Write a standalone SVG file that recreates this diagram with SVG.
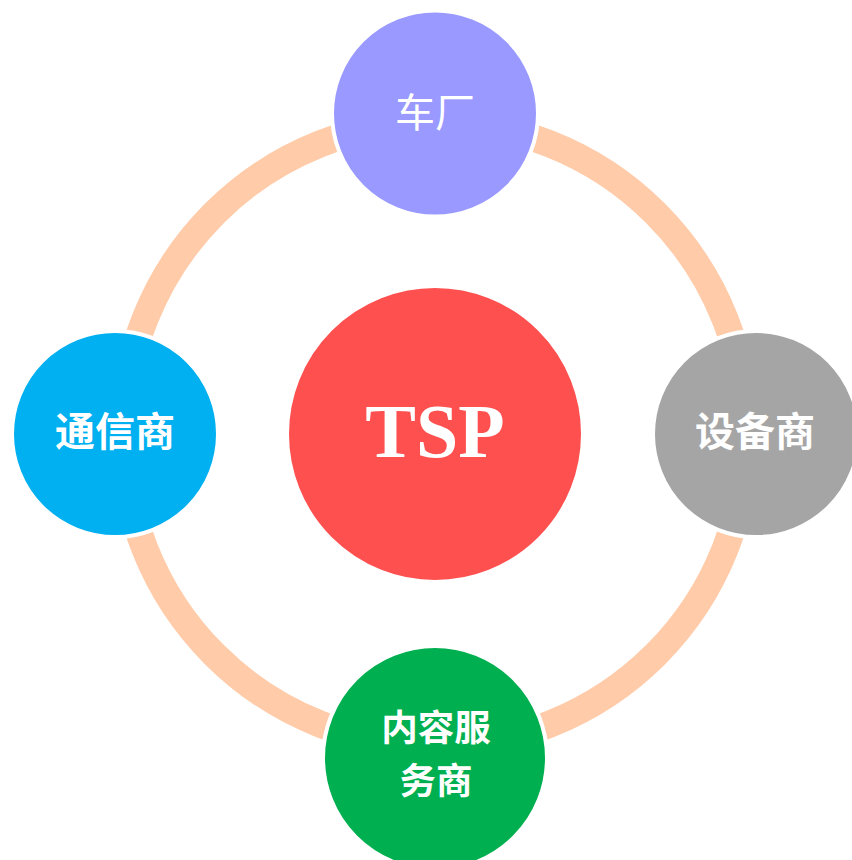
<svg xmlns="http://www.w3.org/2000/svg" width="852" height="860" viewBox="0 0 852 860">
<style>
.node{stroke:#FFFFFF;stroke-width:4}
.cjk{font-family:"Noto Sans CJK SC","Noto Sans",sans-serif;fill:#FFFFFF;text-anchor:middle;font-size:40px}
.b{font-weight:bold}
.sm{font-size:36.5px}
.tsp{font-family:"Liberation Serif","Times New Roman",serif;font-weight:bold;font-size:76px;fill:#FFFFFF;text-anchor:middle}
</style>
<rect width="852" height="860" fill="#FFFFFF"/>
<g id="connectors">
<circle cx="435" cy="434" r="312" fill="none" stroke="#FFCBA8" stroke-width="27"/>
</g>
<g id="node-tsp">
<circle class="node" cx="435" cy="434" r="148" fill="#FF5050"/>
<text class="tsp" x="435" y="457">TSP</text>
</g>
<g id="node-chechang">
<circle class="node" cx="435" cy="113.5" r="103" fill="#9999FF"/>
<text class="cjk" x="435" y="127">车厂</text>
</g>
<g id="node-tongxin">
<circle class="node" cx="115" cy="434" r="103" fill="#00B0F0"/>
<text class="cjk b" x="115" y="446">通信商</text>
</g>
<g id="node-shebei">
<circle class="node" cx="756" cy="434" r="103" fill="#A5A5A5"/>
<text class="cjk b" x="755" y="446">设备商</text>
</g>
<g id="node-neirong">
<circle class="node" cx="435" cy="758" r="112" fill="#00B050"/>
<text class="cjk b sm" x="436" y="741">内容服<tspan x="436" dy="53">务商</tspan></text>
</g>
</svg>
